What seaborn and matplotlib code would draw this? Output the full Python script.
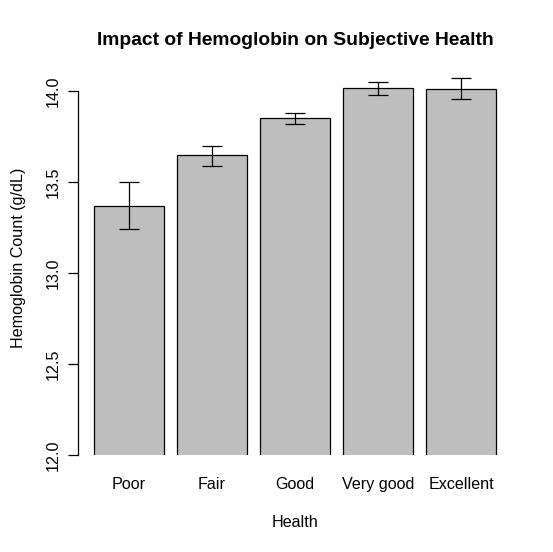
import pandas as pd
import seaborn as sns
import matplotlib.pyplot as plt

# Values
health = ['Poor', 'Fair', 'Good', 'Very good', 'Excellent']
hemoglobin = [13.37, 13.65, 13.85, 14.015, 14.01]
err_low = [13.24, 13.59, 13.82, 13.98, 13.955]
err_high = [13.50, 13.70, 13.88, 14.05, 14.07]
y_ticks = [12.0, 12.5, 13.0, 13.5, 14.0]

df = pd.DataFrame({'Health': health, 'Hemoglobin': hemoglobin})

sns.set_style("white")
plt.rcParams['font.family'] = ['Liberation Sans', 'DejaVu Sans']

fig = plt.figure(figsize=(5.53, 5.52), dpi=100)
ax = fig.add_axes([78 / 553, 97 / 552, 434 / 553, 395 / 552])

sns.barplot(data=df, x='Health', y='Hemoglobin', order=health, color='#BEBEBE',
            edgecolor='black', linewidth=0.9, width=1 / 1.2, saturation=1,
            errorbar=None, ax=ax)

# error bars from the low/high values
lower = [m - lo for m, lo in zip(hemoglobin, err_low)]
upper = [hi - m for m, hi in zip(hemoglobin, err_high)]
ax.errorbar(range(len(health)), hemoglobin, yerr=[lower, upper], fmt='none',
            ecolor='black', elinewidth=0.9, capsize=7.4, capthick=0.9)

ax.set_xlim(-0.613, 4.613)
ax.set_ylim(12.0, 14.17)
ax.set_yticks(y_ticks)
ax.set_yticklabels([f'{t:.1f}' for t in y_ticks], rotation=90, va='center')

for s in ['top', 'right', 'bottom']:
    ax.spines[s].set_visible(False)
ax.spines['left'].set_bounds(12.0, 14.0)
ax.spines['left'].set_linewidth(0.9)
ax.spines['left'].set_color('black')

ax.tick_params(axis='y', left=True, length=7.5, width=0.9, color='black',
               pad=5, labelsize=11.6, labelcolor='black')
ax.tick_params(axis='x', bottom=False, length=0, pad=15.5, labelsize=11.6,
               labelcolor='black')

ax.set_xlabel('Health', fontsize=11.6, labelpad=17, color='black')
ax.set_ylabel('Hemoglobin Count (g/dL)', fontsize=11.6, labelpad=14, color='black')
ax.set_title('Impact of Hemoglobin on Subjective Health', fontsize=13.9,
             fontweight='bold', pad=11, color='black')

fig.savefig('out.png', dpi=100)
